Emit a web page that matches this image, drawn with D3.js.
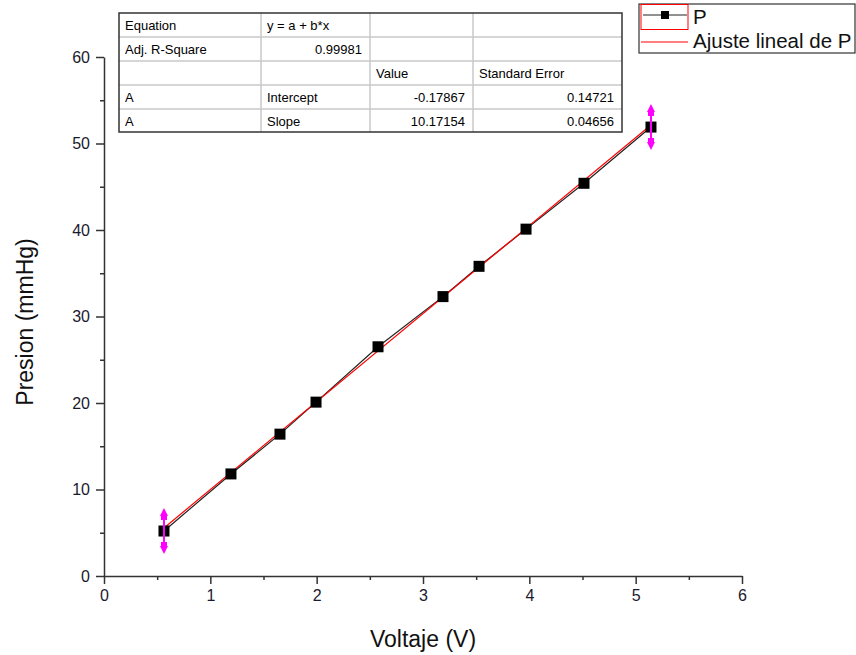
<!DOCTYPE html>
<html>
<head>
<meta charset="utf-8">
<script src="https://cdn.jsdelivr.net/npm/d3@7"></script>
<style>
  body { margin: 0; background: #fff; }
  svg { display: block; font-family: Arial, "Liberation Sans", sans-serif; }
  .axis path, .axis line { stroke: #333; stroke-width: 1.5; }
  .axis text { font-size: 16px; fill: #1a1a2e; }
</style>
</head>
<body>
<div class="chart"></div>
<script>
// data
var voltaje = [0.564, 1.194, 1.655, 1.994, 2.577, 3.188, 3.527, 3.969, 4.514, 5.144];
var presion = [5.2, 11.8, 16.4, 20.1, 26.5, 32.3, 35.8, 40.1, 45.4, 51.9];

// fit coefficients from the table
var intercept = -0.17867, slope = 10.17154;

var tableRows = [
  ["Equation", "y = a + b*x", "", ""],
  ["Adj. R-Square", "0.99981", "", ""],
  ["", "", "Value", "Standard Error"],
  ["A", "Intercept", "-0.17867", "0.14721"],
  ["A", "Slope", "10.17154", "0.04656"]
];
var rightAligned = [[1,1],[3,2],[3,3],[4,2],[4,3]];

var xTicks = [0, 1, 2, 3, 4, 5, 6];
var yTicks = [0, 10, 20, 30, 40, 50, 60];
var legendLabels = ["P", "Ajuste lineal de P"];

var W = 856, H = 655;
var margin = {top: 57, right: 114, bottom: 79, left: 104},
    width = W - margin.left - margin.right,
    height = H - margin.top - margin.bottom;

var x = d3.scaleLinear().domain([0, 6]).range([0, width]);
var y = d3.scaleLinear().domain([0, 60]).range([height, 0]);

var svg = d3.select(".chart").append("svg")
    .attr("width", W)
    .attr("height", H);

var g = svg.append("g")
    .attr("transform", "translate(" + margin.left + "," + margin.top + ")");

// axes
g.append("g")
    .attr("class", "x axis")
    .attr("transform", "translate(0," + height + ")")
    .call(d3.axisBottom(x).tickValues(xTicks).tickFormat(d3.format("d"))
      .tickSize(8).tickSizeOuter(0).tickPadding(6));

g.append("g")
    .attr("class", "x axis minor")
    .attr("transform", "translate(0," + height + ")")
    .call(d3.axisBottom(x).tickValues(d3.range(0.5, 6, 1)).tickSize(4).tickSizeOuter(0).tickFormat(""))
    .select(".domain").remove();

g.append("g")
    .attr("class", "y axis")
    .call(d3.axisLeft(y).tickValues(yTicks).tickFormat(d3.format("d"))
      .tickSize(8).tickSizeOuter(0).tickPadding(6));

g.append("g")
    .attr("class", "y axis minor")
    .call(d3.axisLeft(y).tickValues(d3.range(5, 60, 10)).tickSize(4).tickSizeOuter(0).tickFormat(""))
    .select(".domain").remove();

// axis titles
svg.append("text")
    .attr("x", 423)
    .attr("y", 647)
    .attr("text-anchor", "middle")
    .style("font-size", "23px")
    .attr("fill", "#111")
    .text("Voltaje (V)");

svg.append("text")
    .attr("transform", "translate(33," + 322 + ") rotate(-90)")
    .attr("text-anchor", "middle")
    .style("font-size", "23px")
    .attr("fill", "#111")
    .text("Presion (mmHg)");

var data = voltaje.map(function (v, i) { return {x: v, y: presion[i]}; });

var line = d3.line()
    .x(function (d) { return x(d.x); })
    .y(function (d) { return y(d.y); });

// data line
g.append("path")
    .datum(data)
    .attr("fill", "none")
    .attr("stroke", "#222")
    .attr("stroke-width", 1.2)
    .attr("d", line);

// fit line
var xMin = d3.min(voltaje), xMax = d3.max(voltaje);
var fit = [xMin, xMax].map(function (v) { return {x: v, y: intercept + slope * v}; });
g.append("path")
    .datum(fit)
    .attr("fill", "none")
    .attr("stroke", "#ff0000")
    .attr("stroke-width", 1.2)
    .attr("d", line);

// markers
g.selectAll(".pt")
    .data(data)
    .enter().append("rect")
    .attr("class", "pt")
    .attr("x", function (d) { return x(d.x) - 5.5; })
    .attr("y", function (d) { return y(d.y) - 5.5; })
    .attr("width", 11)
    .attr("height", 11)
    .attr("fill", "#000");

// magenta range arrows at fit ends
var ends = [data[0], data[data.length - 1]];
var arrows = g.selectAll(".arr")
    .data(ends)
    .enter().append("g")
    .attr("transform", function (d) { return "translate(" + x(d.x) + "," + y(d.y) + ")"; });
arrows.append("line")
    .attr("y1", -21).attr("y2", 21)
    .attr("stroke", "#ff00ff").attr("stroke-width", 2);
arrows.append("path")
    .attr("d", "M0,-23 L-4,-15 L-3,-15 L-3,-11 L3,-11 L3,-15 L4,-15 Z")
    .attr("fill", "#ff00ff");
arrows.append("path")
    .attr("d", "M0,23 L-4,15 L-3,15 L-3,11 L3,11 L3,15 L4,15 Z")
    .attr("fill", "#ff00ff");

// results table
var colX = [119, 261, 370, 473, 622];
var rowY = [13, 37, 61, 85, 109, 132];
var tbl = svg.append("g").attr("class", "table");
tbl.append("rect")
    .attr("x", colX[0]).attr("y", rowY[0])
    .attr("width", colX[4] - colX[0]).attr("height", rowY[5] - rowY[0])
    .attr("fill", "#fff");
colX.slice(1, 4).forEach(function (cx) {
  tbl.append("line").attr("x1", cx).attr("x2", cx).attr("y1", rowY[0]).attr("y2", rowY[5])
      .attr("stroke", "#c8c8c8").attr("stroke-width", 1.5);
});
rowY.slice(1, 5).forEach(function (ry) {
  tbl.append("line").attr("x1", colX[0]).attr("x2", colX[4]).attr("y1", ry).attr("y2", ry)
      .attr("stroke", "#c8c8c8").attr("stroke-width", 1.5);
});
tbl.append("rect")
    .attr("x", colX[0]).attr("y", rowY[0])
    .attr("width", colX[4] - colX[0]).attr("height", rowY[5] - rowY[0])
    .attr("fill", "none").attr("stroke", "#333").attr("stroke-width", 1.5);

tableRows.forEach(function (row, r) {
  row.forEach(function (txt, c) {
    if (!txt) return;
    var right = rightAligned.some(function (p) { return p[0] === r && p[1] === c; });
    tbl.append("text")
        .attr("x", right ? colX[c + 1] - 8 : colX[c] + 6)
        .attr("y", rowY[r] + 17)
        .attr("text-anchor", right ? "end" : "start")
        .style("font-size", "13px")
        .attr("fill", "#000")
        .text(txt);
  });
});

// legend
var lg = svg.append("g").attr("class", "legend");
lg.append("rect")
    .attr("x", 639).attr("y", 4).attr("width", 216).attr("height", 49)
    .attr("fill", "#fff").attr("stroke", "#333").attr("stroke-width", 1.2);
lg.append("rect")
    .attr("x", 641).attr("y", 4.5).attr("width", 47).attr("height", 25)
    .attr("fill", "none").attr("stroke", "#ff0000").attr("stroke-width", 1);
lg.append("line")
    .attr("x1", 643).attr("x2", 687).attr("y1", 15).attr("y2", 15)
    .attr("stroke", "#222").attr("stroke-width", 1.2);
lg.append("rect")
    .attr("x", 661).attr("y", 11).attr("width", 8).attr("height", 8)
    .attr("fill", "#000");
lg.append("line")
    .attr("x1", 641).attr("x2", 688).attr("y1", 42).attr("y2", 42)
    .attr("stroke", "#ff0000").attr("stroke-width", 1.2);
lg.selectAll(".lt")
    .data(legendLabels)
    .enter().append("text")
    .attr("x", 693)
    .attr("y", function (d, i) { return 24 + i * 24; })
    .style("font-size", "20.5px")
    .attr("fill", "#111")
    .text(function (d) { return d; });
</script>
</body>
</html>
